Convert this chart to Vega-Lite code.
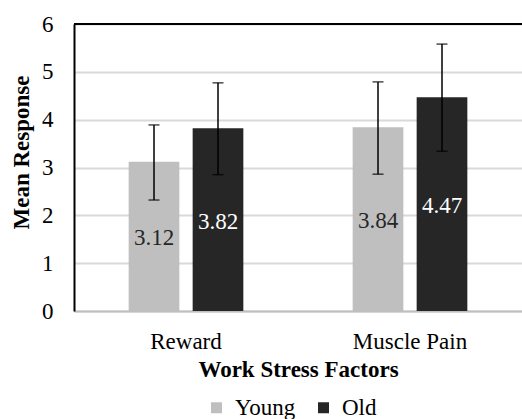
{
  "$schema": "https://vega.github.io/schema/vega-lite/v6.json",
  "width": 448,
  "height": 287,
  "autosize": "none",
  "padding": {"left": 74, "top": 24, "right": 0, "bottom": 108},
  "background": "white",
  "config": {
    "view": {"stroke": null},
    "font": "Liberation Serif",
    "legend": {
      "orient": "none",
      "legendX": 131,
      "legendY": 372,
      "direction": "horizontal",
      "symbolType": "square",
      "symbolSize": 121,
      "symbolStrokeWidth": 0,
      "labelFontSize": 23,
      "labelFont": "Liberation Serif",
      "labelColor": "black",
      "labelOffset": 7,
      "columnPadding": 16,
      "title": null
    }
  },
  "data": {
    "values": [
      {"factor": "Reward", "group": "Young", "mean": 3.12, "lo": 2.32, "hi": 3.89},
      {"factor": "Reward", "group": "Old", "mean": 3.82, "lo": 2.85, "hi": 4.77},
      {"factor": "Muscle Pain", "group": "Young", "mean": 3.84, "lo": 2.86, "hi": 4.79},
      {"factor": "Muscle Pain", "group": "Old", "mean": 4.47, "lo": 3.34, "hi": 5.58}
    ]
  },
  "layer": [
    {
      "mark": {"type": "bar"},
      "encoding": {
        "x": {
          "field": "factor",
          "type": "nominal",
          "sort": ["Reward", "Muscle Pain"],
          "scale": {"paddingInner": 0, "paddingOuter": 0},
          "axis": {
            "labelAngle": 0,
            "labelFont": "Liberation Serif",
            "labelFontSize": 23,
            "labelColor": "black",
            "labelBaseline": "alphabetic",
            "labelPadding": 37,
            "ticks": false,
            "grid": false,
            "domainColor": "#bfbfbf",
            "domainWidth": 2,
            "title": "Work Stress Factors",
            "titleFont": "Liberation Serif",
            "titleFontSize": 23,
            "titleFontWeight": "bold",
            "titleColor": "black",
            "titleBaseline": "alphabetic",
            "titleY": 65
          }
        },
        "xOffset": {
          "field": "group",
          "type": "nominal",
          "sort": ["Young", "Old"],
          "scale": {"paddingInner": 0.208, "paddingOuter": 0.854}
        },
        "y": {
          "field": "mean",
          "type": "quantitative",
          "scale": {"domain": [0, 6], "nice": false},
          "axis": {
            "values": [0, 1, 2, 3, 4, 5, 6],
            "title": "Mean Response",
            "titleFont": "Liberation Serif",
            "titleFontSize": 23,
            "titleFontWeight": "bold",
            "titleColor": "black",
            "titleAngle": -90,
            "titleAlign": "center",
            "titleBaseline": "alphabetic",
            "titleX": -46,
            "titleY": 128,
            "labelFont": "Liberation Serif",
            "labelFontSize": 23,
            "labelColor": "black",
            "labelPadding": 21,
            "ticks": false,
            "domainColor": "black",
            "domainWidth": 2,
            "gridColor": "#d9d9d9",
            "gridWidth": 2
          }
        },
        "color": {
          "field": "group",
          "type": "nominal",
          "sort": ["Young", "Old"],
          "scale": {"domain": ["Young", "Old"], "range": ["#bfbfbf", "#262626"]}
        }
      }
    },
    {
      "mark": {"type": "rule", "color": "black", "strokeWidth": 2},
      "encoding": {"y": {"datum": 6, "type": "quantitative", "scale": {"domain": [0, 6], "nice": false}, "axis": null}}
    },
    {
      "mark": {"type": "rule", "color": "black", "strokeWidth": 1.5},
      "encoding": {
        "x": {"field": "factor", "type": "nominal", "sort": ["Reward", "Muscle Pain"]},
        "xOffset": {"field": "group", "type": "nominal", "sort": ["Young", "Old"]},
        "y": {"field": "lo", "type": "quantitative", "scale": {"domain": [0, 6], "nice": false}, "axis": null},
        "y2": {"field": "hi"}
      }
    },
    {
      "mark": {"type": "tick", "color": "black", "thickness": 1.5, "size": 11},
      "encoding": {
        "x": {"field": "factor", "type": "nominal", "sort": ["Reward", "Muscle Pain"]},
        "xOffset": {"field": "group", "type": "nominal", "sort": ["Young", "Old"]},
        "y": {"field": "lo", "type": "quantitative", "scale": {"domain": [0, 6], "nice": false}, "axis": null}
      }
    },
    {
      "mark": {"type": "tick", "color": "black", "thickness": 1.5, "size": 11},
      "encoding": {
        "x": {"field": "factor", "type": "nominal", "sort": ["Reward", "Muscle Pain"]},
        "xOffset": {"field": "group", "type": "nominal", "sort": ["Young", "Old"]},
        "y": {"field": "hi", "type": "quantitative", "scale": {"domain": [0, 6], "nice": false}, "axis": null}
      }
    },
    {
      "mark": {"type": "text", "font": "Liberation Serif", "fontSize": 23, "baseline": "middle", "dy": 2},
      "encoding": {
        "x": {"field": "factor", "type": "nominal", "sort": ["Reward", "Muscle Pain"]},
        "xOffset": {"field": "group", "type": "nominal", "sort": ["Young", "Old"]},
        "y": {"field": "mean", "type": "quantitative", "scale": {"domain": [0, 12], "nice": false}, "axis": null},
        "text": {"field": "mean", "type": "quantitative", "format": ".2f"},
        "color": {"condition": {"test": "datum.group === 'Old'", "value": "white"}, "value": "#262626"}
      }
    }
  ],
  "resolve": {"scale": {"y": "independent"}, "axis": {"y": "independent"}}
}
